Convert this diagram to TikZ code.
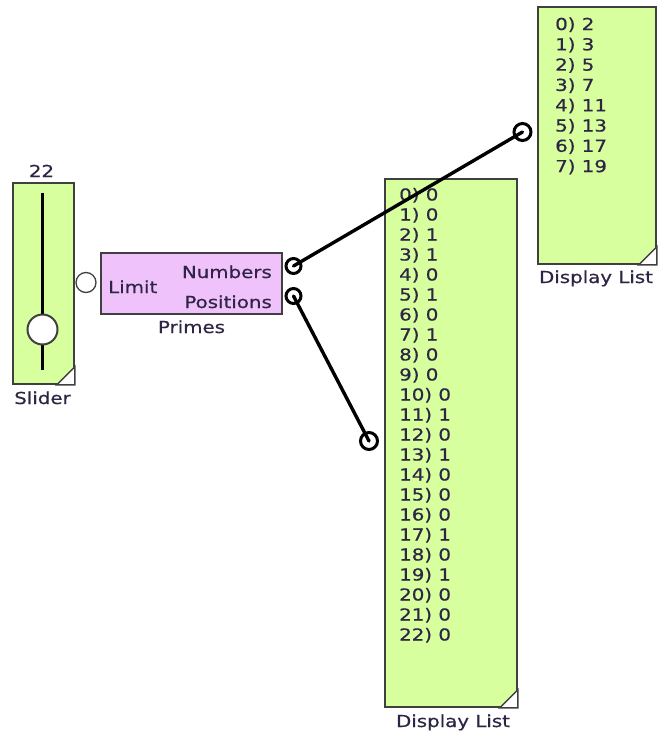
\documentclass[tikz,border=0pt]{standalone}
\usepackage{fontspec}
\newfontfamily\uifont{DejaVu Sans}[FakeStretch=1.2, FakeBold=0.6]
\definecolor{lgreen}{HTML}{D8FF9E}
\definecolor{lpink}{HTML}{F0C2FB}
\definecolor{boxgray}{HTML}{404040}
\definecolor{txt}{HTML}{2E2545}
\tikzset{
  block/.style={draw=boxgray, line width=1.8pt, inner sep=0pt, anchor=north west},
  lbl/.style={font=\uifont\fontsize{16.5}{20}\selectfont, text=txt, anchor=base, inner sep=0pt},
  outport/.style={circle, draw=black, line width=3pt, fill=white, minimum size=15pt, inner sep=0pt},
  inport/.style={circle, draw=boxgray, line width=1.3pt, fill=white, minimum size=20pt, inner sep=0pt},
  wire/.style={line width=3.4pt, black, line cap=round},
  corner/.style={fill=white, draw=boxgray, line width=1.5pt},
}
\begin{document}
\begin{tikzpicture}[x=1pt, y=-1pt]
\useasboundingbox (0,0) rectangle (657,737);
% blocks
\node[block, fill=lgreen, minimum width=61pt, minimum height=201pt] (slider) at (12,182) {};
\node[block, fill=lpink, minimum width=181pt, minimum height=61pt] (primes) at (100,252) {};
\node[block, fill=lgreen, minimum width=118pt, minimum height=257pt] (dl1) at (537,6) {};
\node[block, fill=lgreen, minimum width=132pt, minimum height=528pt] (dl2) at (384,178) {};
% corner marks
\foreach \b in {slider,dl1,dl2}{
  \draw[corner] ([xshift=-18pt]\b.south east) -- ([yshift=18pt]\b.south east) -- (\b.south east) -- cycle;
}
% slider track and knob
\coordinate (trtop) at (42.5,193);
\coordinate (trbot) at (42.5,370);
\draw[line width=2.2pt, black] (trtop) -- (trbot);
\node[circle, draw=boxgray, line width=2pt, fill=white, minimum size=30pt, inner sep=0pt] (knob) at (42.5,329.5) {};
% labels
\node[lbl] (t22) at (41.5,177) {22};
\node[lbl] (tslider) at (42.5,404) {Slider};
\node[lbl] (tprimes) at (191.5,333) {Primes};
\node[lbl] (tdl1) at (596,283) {Display List};
\node[lbl] (tdl2) at (453,727) {Display List};
\node[lbl, anchor=base east] (tnum) at (272,278) {Numbers};
\node[lbl, anchor=base east] (tpos) at (272,308) {Positions};
\node[lbl, anchor=base west] (tlim) at (108,293) {Limit};
% list contents
\foreach \v [count=\i from 0] in {2,3,5,7,11,13,17,19}
  \node[lbl, anchor=base west] (ua\i) at (555,{30+20.3*\i}) {\i) \v};
\foreach \v [count=\i from 0] in {0,0,1,1,0,1,0,1,0,0,0,1,0,1,0,0,0,1,0,1,0,0,0}
  \node[lbl, anchor=base west] (lb\i) at (399,{200.5+20*\i}) {\i) \v};
% ports
\node[inport] (plim) at (86,282.5) {};
\node[outport] (pnum) at (293.5,266) {};
\node[outport] (ppos) at (293.5,296) {};
\node[outport, minimum size=17pt] (pin1) at (522.5,132) {};
\node[outport, minimum size=17pt] (pin2) at (369,441) {};
% wires
\draw[wire] (pnum.center) -- (pin1.center);
\draw[wire] (ppos.center) -- (pin2.center);
\end{tikzpicture}
\end{document}
